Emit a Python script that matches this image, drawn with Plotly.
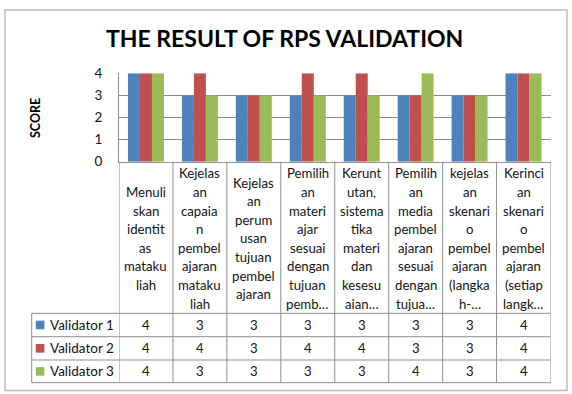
import plotly.graph_objects as go

# ---------------- data ----------------
categories = [
    "Menuli<br>skan<br>identit<br>as<br>mataku<br>liah",
    "Kejelas<br>an<br>capaia<br>n<br>pembel<br>ajaran<br>mataku<br>liah",
    "Kejelas<br>an<br>perum<br>usan<br>tujuan<br>pembel<br>ajaran",
    "Pemilih<br>an<br>materi<br>ajar<br>sesuai<br>dengan<br>tujuan<br>pemb…",
    "Kerunt<br>utan,<br>sistema<br>tika<br>materi<br>dan<br>kesesu<br>aian…",
    "Pemilih<br>an<br>media<br>pembel<br>ajaran<br>sesuai<br>dengan<br>tujua…",
    "kejelas<br>an<br>skenari<br>o<br>pembel<br>ajaran<br>(langka<br>h-…",
    "Kerinci<br>an<br>skenari<br>o<br>pembel<br>ajaran<br>(setiap<br>langk…",
]
series_names = ["Validator 1", "Validator 2", "Validator 3"]
validator1 = [4, 3, 3, 3, 3, 3, 3, 4]
validator2 = [4, 4, 3, 4, 4, 3, 3, 4]
validator3 = [4, 3, 3, 3, 3, 4, 3, 4]
y_ticks = [0, 1, 2, 3, 4]
title_text = "THE RESULT OF RPS VALIDATION"
y_title = "SCORE"

# ---------------- styling ----------------
W, H = 572, 394
colors = ["#4F81BD", "#C0504D", "#9BBB59"]
FONT = "Lato"
TXT = "#141414"
GRID = "#8a8a8a"
TBL = "#8f8f8f"
TSIZE = 13.2

def px(x):
    return x / W

def py(y):
    return 1 - y / H

plot_l, plot_r, plot_t, plot_b = 119, 550.5, 73.3, 161.7
tbl_left = 31.7
row_lines = [313.3, 336.7, 360.0, 382.7]
header_center = 238.5
line_gap = 18.6

fig = go.Figure()
all_series = [validator1, validator2, validator3]
for name, vals, col in zip(series_names, all_series, colors):
    fig.add_trace(go.Bar(x=categories, y=vals, name=name, marker_color=col,
                         marker_line_width=0, showlegend=False))

shapes = []
annotations = []

# outer border
shapes.append(dict(type="rect", xref="paper", yref="paper",
                   x0=px(5), x1=px(567), y0=py(390.5), y1=py(10),
                   line=dict(color="#bdbdbd", width=1.5)))

# table horizontal lines
for yl in row_lines:
    shapes.append(dict(type="line", xref="paper", yref="paper",
                       x0=px(tbl_left), x1=px(plot_r), y0=py(yl), y1=py(yl),
                       line=dict(color=TBL, width=1)))
# legend column left edge
shapes.append(dict(type="line", xref="paper", yref="paper",
                   x0=px(tbl_left), x1=px(tbl_left), y0=py(row_lines[0]), y1=py(row_lines[-1]),
                   line=dict(color=TBL, width=1)))
# category column boundaries (through the x axis scale)
for i in range(len(categories) + 1):
    shapes.append(dict(type="line", xref="x", yref="paper",
                       x0=i - 0.5, x1=i - 0.5, y0=py(row_lines[-1]), y1=py(plot_b),
                       line=dict(color=TBL, width=1)))

# header labels (one annotation per wrapped line)
for cat in categories:
    lines = cat.split("<br>")
    n = len(lines)
    for k, ln in enumerate(lines):
        yy = header_center + (k - (n - 1) / 2) * line_gap
        annotations.append(dict(xref="x", yref="paper", x=cat, y=py(yy),
                                text=ln, showarrow=False, xanchor="center", yanchor="middle",
                                font=dict(family=FONT, size=TSIZE, color=TXT)))

# data rows
for r, (name, vals, col) in enumerate(zip(series_names, all_series, colors)):
    yc = (row_lines[r] + row_lines[r + 1]) / 2
    for cat, v in zip(categories, vals):
        annotations.append(dict(xref="x", yref="paper", x=cat, y=py(yc),
                                text=str(v), showarrow=False, xanchor="center", yanchor="middle",
                                font=dict(family=FONT, size=TSIZE, color=TXT)))
    # legend key
    shapes.append(dict(type="rect", xref="paper", yref="paper",
                       x0=px(35.8), x1=px(44.4), y0=py(yc + 4.3), y1=py(yc - 4.3),
                       fillcolor=col, line=dict(width=0)))
    annotations.append(dict(xref="paper", yref="paper", x=px(47.5), y=py(yc),
                            text=name, showarrow=False, xanchor="left", yanchor="middle",
                            font=dict(family=FONT, size=13.5, color=TXT)))

# title
annotations.append(dict(xref="paper", yref="paper", x=px(284.5), y=py(38.5),
                        text="<b>%s</b>" % title_text, showarrow=False,
                        xanchor="center", yanchor="middle",
                        font=dict(family=FONT, size=23, color="#000000")))
# y axis title
annotations.append(dict(xref="paper", yref="paper", x=px(35), y=py(118),
                        text="<b>%s</b>" % y_title, showarrow=False, textangle=-90,
                        xanchor="center", yanchor="middle",
                        font=dict(family=FONT, size=12.5, color="#000000")))

fig.update_layout(
    width=W, height=H,
    margin=dict(l=0, r=0, t=0, b=0),
    paper_bgcolor="white", plot_bgcolor="white",
    barmode="group", bargap=0.333, bargroupgap=0,
    shapes=shapes, annotations=annotations,
    xaxis=dict(domain=[px(plot_l), px(plot_r)], type="category",
               categoryorder="array", categoryarray=categories,
               range=[-0.5, len(categories) - 0.5],
               showticklabels=False, ticks="", showgrid=False,
               showline=True, linecolor=TBL, linewidth=1, zeroline=False,
               automargin=False),
    yaxis=dict(domain=[py(plot_b), py(plot_t)], range=[0, 4],
               tickvals=y_ticks, ticktext=[str(t) for t in y_ticks],
               showgrid=True, gridcolor=GRID, gridwidth=1,
               showline=True, linecolor=GRID, linewidth=1, zeroline=False,
               ticks="", ticklabelstandoff=13,
               tickfont=dict(family=FONT, size=13.5, color=TXT),
               automargin=False),
)

fig.write_html("out.html")
